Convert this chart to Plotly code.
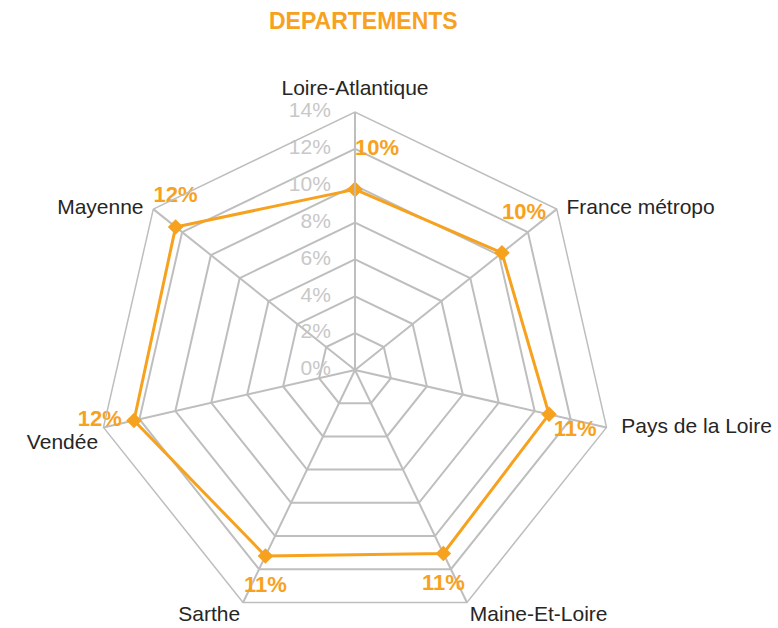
import plotly.graph_objects as go

# Share per department, in percent
categories = ["Loire-Atlantique", "France métropo", "Pays de la Loire",
              "Maine-Et-Loire", "Sarthe", "Vendée", "Mayenne"]
values = [9.8, 10.2, 10.8, 11.05, 11.2, 12.3, 12.45]
radial_ticks = [0, 2, 4, 6, 8, 10, 12, 14]

# where each value label sits around its marker, and how far out
label_positions = ["top right", "top right", "bottom right", "bottom center",
                   "bottom center", "middle left", "top center"]
label_gaps = [0, 0, 6, 31, 29, 18, 30]

# where each category name sits around the outer corner of the web
category_positions = ["top center", "middle right", "middle right",
                      "bottom right", "bottom left", "bottom left", "middle left"]
category_gaps = [18, 14, 22, 3, 3, 7, 14]

ORANGE = "#F7A21E"
GRID = "#BEBEBE"
TICK_GREY = "#C8C8C8"
TEXT = "#262626"
FONT = "Liberation Sans, Arial, sans-serif"
R_MAX = radial_ticks[-1]
CLEAR = "rgba(0,0,0,0)"

theta_closed = categories + categories[:1]
r_closed = values + values[:1]

value_text = []
for v, pos in zip(values, label_positions):
    txt = f"{round(v):.0f}%"
    # the two upper-right labels sit one line higher than the rest
    if pos == "top right":
        txt += "<br> "
    value_text.append(txt)

# the centre point counts as outside the web, so its label is anchored a hair above it
tick_anchor_r = [max(t, 0.02) for t in radial_ticks]

fig = go.Figure()

fig.add_trace(go.Scatterpolar(
    r=r_closed, theta=theta_closed,
    mode="lines+markers",
    line=dict(color=ORANGE, width=3),
    marker=dict(symbol="diamond", size=12, color=ORANGE),
    hoverinfo="skip", showlegend=False,
))

# value labels, held away from the markers by transparent spacer markers
fig.add_trace(go.Scatterpolar(
    r=values, theta=categories,
    mode="markers+text",
    marker=dict(size=label_gaps, color=CLEAR, line=dict(width=0, color=CLEAR)),
    text=value_text,
    textposition=label_positions,
    textfont=dict(family=FONT, size=22, color=ORANGE, weight="bold"),
    hoverinfo="skip", showlegend=False, cliponaxis=False,
))

# radial scale labels, drawn to the left of the vertical axis
fig.add_trace(go.Scatterpolar(
    r=tick_anchor_r, theta=[categories[0]] * len(radial_ticks),
    mode="markers+text",
    marker=dict(size=37, color=CLEAR, line=dict(width=0, color=CLEAR)),
    text=[f"{t}%" for t in radial_ticks],
    textposition="middle left",
    textfont=dict(family=FONT, size=21, color=TICK_GREY),
    hoverinfo="skip", showlegend=False, cliponaxis=False,
))

# category names just outside the outer web
fig.add_trace(go.Scatterpolar(
    r=[R_MAX] * len(categories), theta=categories,
    mode="markers+text",
    marker=dict(size=category_gaps, color=CLEAR, line=dict(width=0, color=CLEAR)),
    text=categories,
    textposition=category_positions,
    textfont=dict(family=FONT, size=21, color=TEXT),
    hoverinfo="skip", showlegend=False, cliponaxis=False,
))

fig.update_layout(
    width=778, height=628,
    margin=dict(l=0, r=0, t=0, b=0),
    paper_bgcolor="white",
    font=dict(family=FONT),
    title=dict(text="<b>DEPARTEMENTS</b>", x=0.467, xanchor="center",
               y=1 - 21 / 628, yanchor="middle",
               font=dict(family=FONT, size=23, color=ORANGE)),
    polar=dict(
        domain=dict(x=[(355 - 258) / 778, (355 + 258) / 778], y=[0, 516 / 628]),
        bgcolor="white",
        gridshape="linear",
        radialaxis=dict(
            range=[0, R_MAX], tickvals=radial_ticks,
            angle=90, showticklabels=False,
            showline=True, linecolor=GRID, linewidth=1.8,
            gridcolor=GRID, gridwidth=1.5, ticks="",
        ),
        angularaxis=dict(
            rotation=90, direction="clockwise",
            showline=True, linecolor=GRID, linewidth=1.5,
            gridcolor=GRID, gridwidth=1.5,
            ticks="", showticklabels=False,
        ),
    ),
)

fig.write_html("out.html")
